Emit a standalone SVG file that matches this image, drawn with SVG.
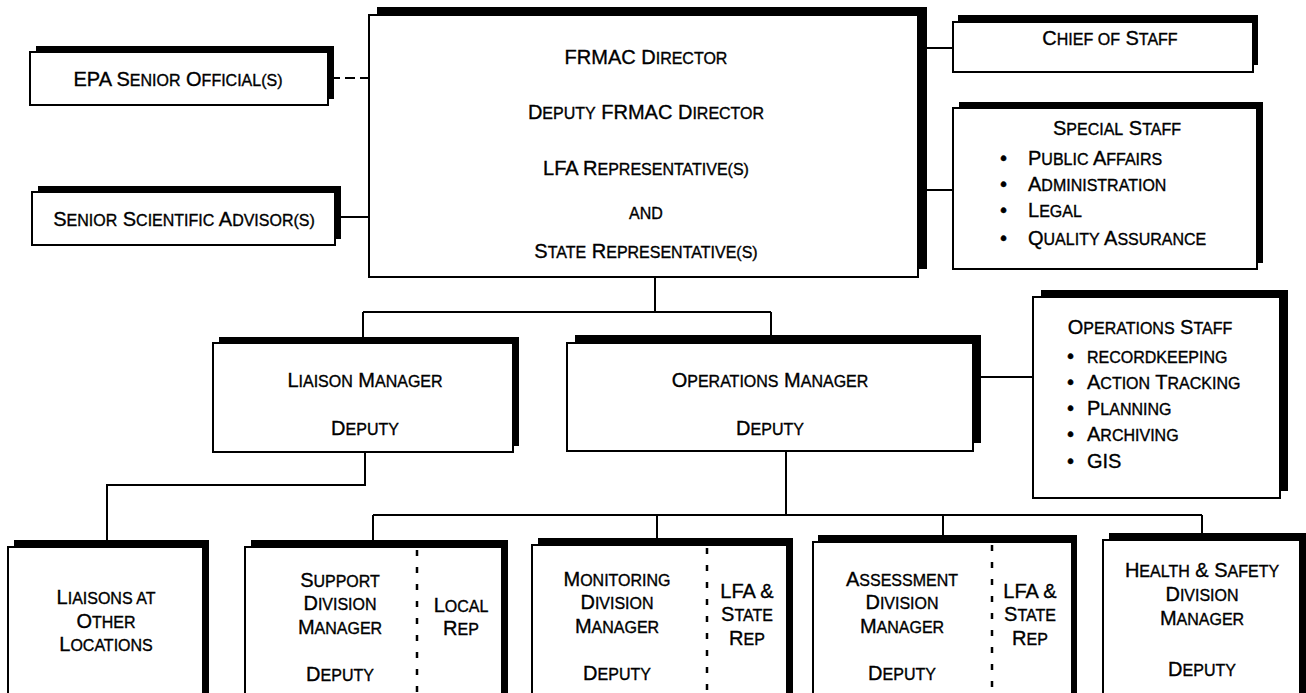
<svg xmlns="http://www.w3.org/2000/svg" width="1306" height="693" viewBox="0 0 1306 693">
<style>
  .bg{fill:#fff}
  .sh{fill:#000}
  .box{fill:#fff;stroke:#000;stroke-width:2}
  .ln{fill:none;stroke:#000;stroke-width:2}
  .dash{stroke-dasharray:10 5}
  .div{fill:none;stroke:#000;stroke-width:2.5;stroke-dasharray:6 11}
  text{font-family:"Liberation Sans",Arial,Helvetica,sans-serif;font-size:20px;fill:#000;stroke:#000;stroke-width:0.35}
  .m{text-anchor:middle}
  .s{font-size:16px}
</style>
<rect class="bg" x="0" y="0" width="1306" height="693"/>

<g id="connectors">
  <path class="ln dash" d="M330,78 H369"/>
  <path class="ln" d="M335,217 H369"/>
  <path class="ln" d="M918,48 H953"/>
  <path class="ln" d="M918,190 H953"/>
  <path class="ln" d="M655,277 V312 M363,312 H771 M363,312 V343 M771,312 V343"/>
  <path class="ln" d="M973,377 H1033"/>
  <path class="ln" d="M365,452 V485 H107 V547"/>
  <path class="ln" d="M786,451 V515 M373,515 H1202 M373,515 V547 M657,515 V545 M943,515 V542 M1202,515 V540"/>
</g>

<g id="epa">
  <rect class="sh" x="36" y="46" width="298" height="53"/>
  <rect class="box" x="30" y="52" width="298" height="53"/>
  <text class="m" x="178" y="86">EPA S<tspan class="s">ENIOR</tspan> O<tspan class="s">FFICIAL(S)</tspan></text>
</g>

<g id="advisor">
  <rect class="sh" x="38" y="186" width="303" height="53"/>
  <rect class="box" x="32" y="192" width="303" height="53"/>
  <text class="m" x="184" y="226">S<tspan class="s">ENIOR</tspan> S<tspan class="s">CIENTIFIC</tspan> A<tspan class="s">DVISOR(S)</tspan></text>
</g>

<g id="director">
  <rect class="sh" x="377" y="7" width="550" height="262"/>
  <rect class="box" x="369" y="15" width="549" height="262"/>
  <text class="m" x="646" y="64">FRMAC D<tspan class="s">IRECTOR</tspan></text>
  <text class="m" x="646" y="119">D<tspan class="s">EPUTY</tspan> FRMAC D<tspan class="s">IRECTOR</tspan></text>
  <text class="m" x="646" y="175">LFA R<tspan class="s">EPRESENTATIVE(S)</tspan></text>
  <text class="m s" x="646" y="219">AND</text>
  <text class="m" x="646" y="258">S<tspan class="s">TATE</tspan> R<tspan class="s">EPRESENTATIVE(S)</tspan></text>
</g>

<g id="chief">
  <rect class="sh" x="958" y="15" width="300" height="50"/>
  <rect class="box" x="953" y="22" width="300" height="50"/>
  <text class="m" x="1110" y="45">C<tspan class="s">HIEF OF</tspan> S<tspan class="s">TAFF</tspan></text>
</g>

<g id="special">
  <rect class="sh" x="959" y="102" width="304" height="161"/>
  <rect class="box" x="953" y="108" width="304" height="161"/>
  <text class="m" x="1117" y="135">S<tspan class="s">PECIAL</tspan> S<tspan class="s">TAFF</tspan></text>
  <text x="1000" y="165">•<tspan x="1028">P<tspan class="s">UBLIC</tspan> A<tspan class="s">FFAIRS</tspan></tspan></text>
  <text x="1000" y="191">•<tspan x="1028">A<tspan class="s">DMINISTRATION</tspan></tspan></text>
  <text x="1000" y="217">•<tspan x="1028">L<tspan class="s">EGAL</tspan></tspan></text>
  <text x="1000" y="245">•<tspan x="1028">Q<tspan class="s">UALITY</tspan> A<tspan class="s">SSURANCE</tspan></tspan></text>
</g>

<g id="liaison-manager">
  <rect class="sh" x="219" y="337" width="300" height="109"/>
  <rect class="box" x="213" y="343" width="300" height="109"/>
  <text class="m" x="365" y="387">L<tspan class="s">IAISON</tspan> M<tspan class="s">ANAGER</tspan></text>
  <text class="m" x="365" y="435">D<tspan class="s">EPUTY</tspan></text>
</g>

<g id="operations-manager">
  <rect class="sh" x="575" y="335" width="406" height="108"/>
  <rect class="box" x="567" y="343" width="406" height="108"/>
  <text class="m" x="770" y="387">O<tspan class="s">PERATIONS</tspan> M<tspan class="s">ANAGER</tspan></text>
  <text class="m" x="770" y="435">D<tspan class="s">EPUTY</tspan></text>
</g>

<g id="operations-staff">
  <rect class="sh" x="1041" y="290" width="247" height="201"/>
  <rect class="box" x="1033" y="297" width="247" height="201"/>
  <text class="m" x="1150" y="334">O<tspan class="s">PERATIONS</tspan> S<tspan class="s">TAFF</tspan></text>
  <text x="1067" y="363">•<tspan x="1087" class="s">RECORDKEEPING</tspan></text>
  <text x="1067" y="389">•<tspan x="1087">A<tspan class="s">CTION</tspan> T<tspan class="s">RACKING</tspan></tspan></text>
  <text x="1067" y="415">•<tspan x="1087">P<tspan class="s">LANNING</tspan></tspan></text>
  <text x="1067" y="441">•<tspan x="1087">A<tspan class="s">RCHIVING</tspan></tspan></text>
  <text x="1067" y="468">•<tspan x="1087">GIS</tspan></text>
</g>

<g id="liaisons-other">
  <rect class="sh" x="14" y="540" width="195" height="170"/>
  <rect class="box" x="8" y="547" width="195" height="170"/>
  <text class="m" x="106" y="604">L<tspan class="s">IAISONS AT</tspan></text>
  <text class="m" x="106" y="628">O<tspan class="s">THER</tspan></text>
  <text class="m" x="106" y="651">L<tspan class="s">OCATIONS</tspan></text>
</g>

<g id="support">
  <rect class="sh" x="251" y="540" width="257" height="170"/>
  <rect class="box" x="245" y="547" width="257" height="170"/>
  <path class="div" d="M417,550 V693"/>
  <text class="m" x="340" y="587">S<tspan class="s">UPPORT</tspan></text>
  <text class="m" x="340" y="610">D<tspan class="s">IVISION</tspan></text>
  <text class="m" x="340" y="634">M<tspan class="s">ANAGER</tspan></text>
  <text class="m" x="340" y="681">D<tspan class="s">EPUTY</tspan></text>
  <text class="m" x="461" y="612">L<tspan class="s">OCAL</tspan></text>
  <text class="m" x="461" y="635">R<tspan class="s">EP</tspan></text>
</g>

<g id="monitoring">
  <rect class="sh" x="538" y="538" width="255" height="170"/>
  <rect class="box" x="532" y="545" width="255" height="170"/>
  <path class="div" d="M707,548 V693"/>
  <text class="m" x="617" y="586">M<tspan class="s">ONITORING</tspan></text>
  <text class="m" x="617" y="609">D<tspan class="s">IVISION</tspan></text>
  <text class="m" x="617" y="633">M<tspan class="s">ANAGER</tspan></text>
  <text class="m" x="617" y="680">D<tspan class="s">EPUTY</tspan></text>
  <text class="m" x="747" y="598">LFA &amp;</text>
  <text class="m" x="747" y="621">S<tspan class="s">TATE</tspan></text>
  <text class="m" x="747" y="645">R<tspan class="s">EP</tspan></text>
</g>

<g id="assessment">
  <rect class="sh" x="818" y="535" width="259" height="170"/>
  <rect class="box" x="813" y="542" width="259" height="170"/>
  <path class="div" d="M992,545 V693"/>
  <text class="m" x="902" y="586">A<tspan class="s">SSESSMENT</tspan></text>
  <text class="m" x="902" y="609">D<tspan class="s">IVISION</tspan></text>
  <text class="m" x="902" y="633">M<tspan class="s">ANAGER</tspan></text>
  <text class="m" x="902" y="680">D<tspan class="s">EPUTY</tspan></text>
  <text class="m" x="1030" y="598">LFA &amp;</text>
  <text class="m" x="1030" y="621">S<tspan class="s">TATE</tspan></text>
  <text class="m" x="1030" y="645">R<tspan class="s">EP</tspan></text>
</g>

<g id="health-safety">
  <rect class="sh" x="1109" y="533" width="197" height="170"/>
  <rect class="box" x="1103" y="540" width="197" height="170"/>
  <text class="m" x="1202" y="577">H<tspan class="s">EALTH</tspan> &amp; S<tspan class="s">AFETY</tspan></text>
  <text class="m" x="1202" y="601">D<tspan class="s">IVISION</tspan></text>
  <text class="m" x="1202" y="625">M<tspan class="s">ANAGER</tspan></text>
  <text class="m" x="1202" y="676">D<tspan class="s">EPUTY</tspan></text>
</g>
</svg>
